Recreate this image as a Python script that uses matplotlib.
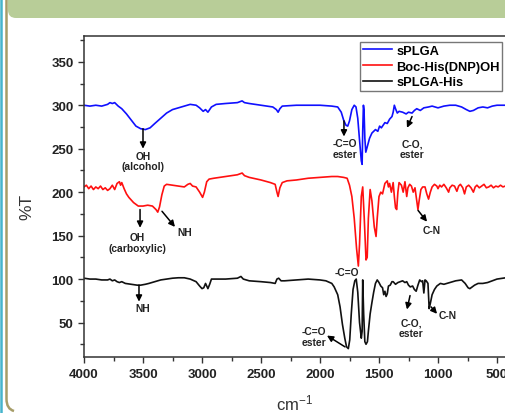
import matplotlib
matplotlib.use("Agg")
import matplotlib.pyplot as plt
from matplotlib.patches import FancyBboxPatch
from matplotlib.path import Path
from matplotlib.patches import PathPatch
from matplotlib.ticker import MultipleLocator

plt.rcParams['font.family'] = ['Liberation Sans', 'DejaVu Sans']
plt.rcParams['mathtext.fontset'] = 'custom'
plt.rcParams['mathtext.rm'] = 'Liberation Sans'
plt.rcParams['mathtext.default'] = 'regular'

# ---------------- data ----------------
splga_x = [4000, 3950, 3900, 3850, 3800, 3780, 3760, 3740, 3710, 3680, 3640, 3600, 3560, 3520,
           3480, 3440, 3400, 3350, 3300, 3250, 3200, 3150, 3100, 3050, 3020, 2990, 2970, 2950,
           2920, 2880, 2800, 2700, 2660, 2640, 2600, 2500, 2400, 2370, 2355, 2340, 2320, 2200,
           2100, 2000, 1900, 1850, 1820, 1800, 1780, 1765, 1750, 1730, 1710, 1695, 1680, 1665,
           1650, 1643, 1638, 1632, 1627, 1620, 1612, 1600, 1580, 1560, 1545, 1530, 1510, 1495,
           1480, 1465, 1450, 1430, 1410, 1390, 1380, 1370, 1360, 1345, 1330, 1300, 1270, 1250,
           1220, 1200, 1180, 1150, 1120, 1080, 1050, 1000, 950, 900, 850, 800, 760, 730, 700,
           660, 620, 580, 540, 500, 450, 400]
splga_y = [300, 299, 300, 299, 301, 303, 302, 303, 299, 296, 290, 283, 276, 273,
           272, 274, 279, 285, 291, 295, 297, 299, 301, 300, 297, 293, 295, 292,
           298, 301, 302, 303, 305, 303, 302, 300, 298, 295, 292, 296, 299, 300,
           300, 300, 299, 298, 292, 283, 277, 276, 282, 295, 300, 298, 285, 260,
           236, 232, 270, 300, 295, 262, 246, 252, 262, 268, 270, 272, 270, 276,
           274, 277, 280, 279, 284, 287, 292, 300, 296, 291, 293, 292, 290, 292,
           291, 294, 296, 294, 297, 298, 299, 297, 299, 300, 300, 298, 295, 293, 294,
           297, 298, 297, 299, 300, 300, 300]

boc_x = [4000, 3980, 3960, 3940, 3920, 3900, 3880, 3860, 3840, 3820, 3800, 3780, 3760, 3740,
         3720, 3700, 3690, 3680, 3660, 3640, 3620, 3600, 3580, 3560, 3540, 3500, 3460, 3420,
         3390, 3375, 3360, 3340, 3320, 3300, 3250, 3200, 3150, 3120, 3100, 3080, 3050, 3020,
         2995, 2980, 2960, 2940, 2900, 2850, 2800, 2750, 2700, 2660, 2640, 2600, 2500, 2420,
         2380, 2365, 2355, 2340, 2320, 2280, 2200, 2100, 2000, 1900, 1850, 1800, 1770, 1750,
         1730, 1710, 1690, 1675, 1665, 1650, 1638, 1625, 1610, 1600, 1590, 1575, 1560, 1540,
         1525, 1515, 1500, 1485, 1470, 1450, 1430, 1420, 1410, 1395, 1380, 1370, 1360, 1350,
         1340, 1330, 1310, 1295, 1280, 1265, 1255, 1240, 1225, 1210, 1195, 1180, 1170, 1160,
         1145, 1130, 1110, 1095, 1080, 1065, 1050, 1030, 1010, 1000, 985, 970, 950, 930, 910,
         900, 880, 860, 840, 825, 810, 790, 775, 760, 740, 720, 700, 685, 670, 650, 630, 610,
         590, 570, 550, 530, 510, 490, 470, 450, 430, 400]
boc_y = [206, 208, 204, 207, 203, 206, 204, 207, 203, 205, 202, 204, 208, 203,
         210, 212, 208, 211, 204, 198, 194, 191, 188, 186, 184, 184, 185, 184,
         180, 177, 183, 197, 207, 209, 208, 207, 206, 209, 210, 207, 206, 200,
         194, 200, 212, 215, 216, 217, 218, 219, 220, 222, 219, 217, 214, 211,
         209, 200, 195, 205, 211, 213, 214, 216, 217, 218, 218, 217, 216, 208,
         195, 170, 135, 115, 140, 195, 206, 170, 122, 125, 170, 203, 190, 160,
         149, 170, 195, 200, 198, 210, 213, 206, 210, 200, 211, 195, 182, 180,
         200, 211, 208, 200, 212, 195, 205, 209, 207, 200, 205, 190, 180, 190,
         203, 206, 206, 198, 192, 200, 206, 209, 207, 204, 208, 206, 209, 205, 200,
         205, 208, 207, 201, 207, 209, 205, 198, 206, 208, 205, 200, 206, 208, 205, 207, 209,
         205, 206, 208, 205, 207, 206, 208, 206, 207, 207]

his_x = [4000, 3950, 3900, 3850, 3800, 3780, 3760, 3740, 3720, 3700, 3680, 3650, 3600, 3550,
         3520, 3480, 3450, 3400, 3350, 3300, 3250, 3200, 3150, 3100, 3050, 3020, 3000, 2985,
         2970, 2960, 2950, 2935, 2920, 2880, 2800, 2700, 2670, 2650, 2600, 2500, 2420, 2380,
         2365, 2350, 2330, 2300, 2200, 2100, 2000, 1950, 1900, 1880, 1850, 1830, 1810, 1790,
         1775, 1760, 1748, 1735, 1720, 1705, 1693, 1680, 1665, 1650, 1643, 1638, 1630, 1620,
         1610, 1598, 1590, 1575, 1560, 1545, 1530, 1515, 1500, 1485, 1470, 1460, 1450, 1440,
         1430, 1420, 1405, 1390, 1380, 1360, 1340, 1320, 1300, 1280, 1265, 1250, 1235, 1215,
         1200, 1185, 1170, 1155, 1140, 1130, 1120, 1110, 1100, 1085, 1075, 1065, 1050, 1030,
         1010, 980, 950, 900, 850, 800, 770, 745, 730, 710, 690, 660, 620, 580, 540, 500,
         450, 400]
his_y = [101, 100, 100, 99, 99, 100, 98, 99, 97, 96, 97, 95, 94, 93,
         93, 94, 95, 97, 99, 100, 101, 101.5, 101.5, 100, 97, 92, 89, 90,
         95, 92, 89, 94, 100, 100, 100, 101, 103, 100, 98, 97, 96, 95,
         100, 101, 98, 98, 99, 100, 99, 98, 95, 91, 82, 68, 48, 32,
         22, 20, 30, 60, 88, 98, 100, 85, 50, 32, 40, 99, 60, 28,
         25, 28, 40, 60, 73, 85, 95, 99, 96, 92, 90, 82, 86, 80,
         83, 92, 93, 97, 97, 94, 96, 97, 98, 96, 97, 93, 91, 92,
         88, 86, 93, 99, 97, 98, 84, 99, 98, 95, 66, 72, 82, 88,
         92, 95, 94, 96, 98, 99, 95, 90, 89, 91, 93, 95, 95, 96, 98, 100,
         101, 102]

series_labels = ["sPLGA", "Boc-His(DNP)OH", "sPLGA-His"]
series_colors = ["#1010ff", "#ff1010", "#111111"]

x_ticks = [4000, 3500, 3000, 2500, 2000, 1500, 1000, 500]
y_ticks = [50, 100, 150, 200, 250, 300, 350]

# ---------------- figure ----------------
W, H = 506, 414
fig = plt.figure(figsize=(W / 100, H / 100), dpi=100)

# background decorations in pixel coords
bg = fig.add_axes([0, 0, 1, 1], zorder=-5)
bg.set_xlim(0, W)
bg.set_ylim(H, 0)
bg.axis('off')
bg.add_patch(FancyBboxPatch((8, -20), W + 20, 39, boxstyle="round,pad=0,rounding_size=8",
                            facecolor="#b8cd98", edgecolor="none"))
bg.plot([1.5, 1.5], [0, H], color="#45b4cc", lw=1.8, solid_capstyle='butt')
verts = [(6.5, 0), (6.5, 400), (6.5, 410), (14, 412)]
codes = [Path.MOVETO, Path.LINETO, Path.CURVE3, Path.CURVE3]
bg.add_patch(PathPatch(Path(verts, codes), facecolor='none', edgecolor="#a69d68", lw=1.8))

ax_left = 84 / W
ax_bottom = (H - 358.3) / H
ax_top = (H - 36.7) / H
ax_w = 424.8 / W
ax = fig.add_axes([ax_left, ax_bottom, ax_w, ax_top - ax_bottom])

for xs, ys, lab, col in zip([splga_x, boc_x, his_x], [splga_y, boc_y, his_y],
                            series_labels, series_colors):
    ax.plot(xs, ys, color=col, lw=1.2, label=lab)

ax.set_xlim(4000, 400)
ax.set_ylim(10, 380)
ax.set_xticks(x_ticks)
ax.set_yticks(y_ticks)
ax.xaxis.set_minor_locator(MultipleLocator(250))
ax.yaxis.set_minor_locator(MultipleLocator(25))
spine_col = "#333333"
for s in ax.spines.values():
    s.set_linewidth(1.1)
    s.set_color(spine_col)
ax.tick_params(which='major', direction='out', length=4.5, width=1.0, color=spine_col,
               labelsize=9.5, pad=3)
ax.tick_params(which='minor', direction='out', length=3, width=1.0, color=spine_col)
ax.tick_params(top=False, right=False, which='both')
for lbl in ax.get_xticklabels() + ax.get_yticklabels():
    lbl.set_fontweight('bold')
    lbl.set_color('#222222')

# axis titles placed in figure pixels
fig.text(27 / W, (H - 207) / H, "%T", fontsize=12.5, color='#333333', rotation=90,
         ha='center', va='center')
fig.text(295 / W, (H - 403) / H, r"cm$^{-1}$", fontsize=12, color='#333333',
         ha='center', va='center')

leg = fig.legend(loc='upper left', bbox_to_anchor=(360 / W, (H - 43) / H),
                 bbox_transform=fig.transFigure, frameon=True, fancybox=False,
                 prop={'weight': 'bold', 'size': 9.3}, handlelength=2.3,
                 handletextpad=0.3, borderpad=0.2, labelspacing=0.3, borderaxespad=0)
leg.get_frame().set_edgecolor('#555555')
leg.get_frame().set_linewidth(1.0)

tkw = dict(fontsize=7.4, fontweight='bold', color='#222222', ha='center', va='center',
           linespacing=1.05)
akw = dict(arrowstyle='-|>', color='black', lw=1.1, mutation_scale=9, shrinkA=0, shrinkB=0)

def arrow(tail, head):
    ax.annotate('', xy=head, xytext=tail, arrowprops=akw)

# sPLGA annotations
arrow((3500, 273), (3500, 250))
ax.text(3500, 236, "OH\n(alcohol)", **tkw)
arrow((1797, 282), (1797, 264))
ax.text(1790, 250, "-C=O\nester", **tkw)
arrow((1220, 287), (1263, 274))
ax.text(1218, 250, "C-O,\nester", **tkw)

# Boc-His(DNP)OH annotations
arrow((3525, 180), (3525, 159))
ax.text(3550, 142, "OH\n(carboxylic)", **tkw)
arrow((3339, 178), (3229, 160))
ax.text(3150, 154, "NH", **tkw)
arrow((1169, 179), (1093, 166))
ax.text(1051, 157, "C-N", **tkw)
ax.text(1771, 108, "-C=O", **tkw)

# sPLGA-His annotations
arrow((3534, 93), (3534, 74))
ax.text(3505, 67, "NH", **tkw)
arrow((1788, 22), (1941, 35))
ax.text(2055, 34, "-C=O\nester", **tkw)
arrow((1237, 81), (1263, 65))
ax.text(1225, 44, "C-O,\nester", **tkw)
arrow((1059, 68), (1008, 60))
ax.text(915, 59, "C-N", **tkw)

fig.savefig("out.png", dpi=100)
